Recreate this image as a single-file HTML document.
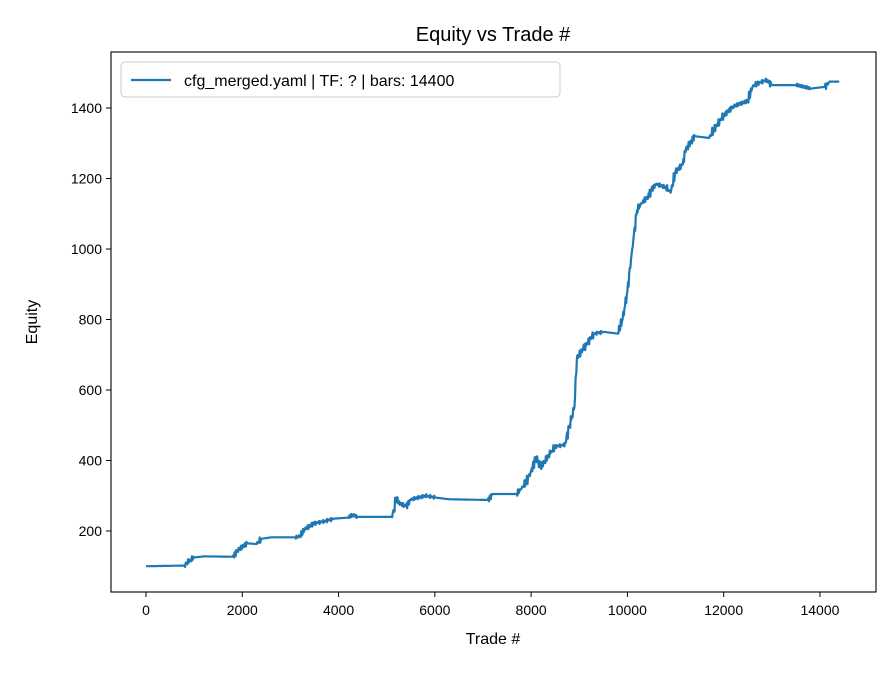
<!DOCTYPE html>
<html><head><meta charset="utf-8"><style>
body{margin:0;background:#fff}
svg text{font-family:"Liberation Sans","DejaVu Sans",sans-serif;fill:#000}
</style></head><body>
<svg id="s" width="896" height="672" xmlns="http://www.w3.org/2000/svg">
<rect width="896" height="672" fill="#fff"/>
<text x="493" y="41" font-size="20" text-anchor="middle">Equity vs Trade #</text>
<rect x="111" y="52" width="765" height="540" fill="none" stroke="#000" stroke-width="1.1"/>
<g id="xt" font-size="14" text-anchor="middle"></g>
<g id="yt" font-size="14" text-anchor="end"></g>
<text x="493" y="644" font-size="16" text-anchor="middle">Trade #</text>
<text x="37" y="322" font-size="16" text-anchor="middle" transform="rotate(-90 37 322)">Equity</text>
<polyline id="ln" fill="none" stroke="#1f77b4" stroke-width="2.2" stroke-linejoin="round"/>
<rect x="121" y="62" width="439" height="35" rx="4" fill="#fff" stroke="#ccc"/>
<line x1="131" y1="80" x2="171" y2="80" stroke="#1f77b4" stroke-width="2.2"/>
<text x="184" y="86" font-size="16">cfg_merged.yaml | TF: ? | bars: 14400</text>
</svg>
<script>
const X=v=>146+v*0.04814, Y=v=>531-(v-200)*0.3525;
const xt=document.getElementById("xt"),yt=document.getElementById("yt");
for(let v=0;v<=14000;v+=2000){const x=X(v);xt.innerHTML+=`<line x1="${x}" y1="592" x2="${x}" y2="597" stroke="#000"/><text x="${x}" y="615">${v}</text>`;}
for(let v=200;v<=1400;v+=200){const y=Y(v);yt.innerHTML+=`<line x1="106" y1="${y}" x2="111" y2="${y}" stroke="#000"/><text x="102" y="${y+5}">${v}</text>`;}
const d=[[0,100],[800,102],[850,110],[1000,125],[1200,128],[1800,127],[1900,145],[2100,165],[2300,163],[2400,178],[2600,182],[3100,182],[3200,185],[3300,205],[3500,222],[3700,228],[3900,235],[4200,238],[4300,245],[4400,240],[5100,240],[5150,260],[5200,295],[5250,280],[5400,270],[5500,290],[5800,300],[6000,295],[6300,290],[7100,288],[7200,305],[7700,305],[7800,320],[7900,340],[8000,370],[8100,410],[8200,380],[8400,420],[8500,440],[8700,445],[8800,500],[8900,550],[8950,690],[9100,720],[9300,760],[9500,765],[9800,760],[9900,800],[10000,880],[10100,1000],[10200,1110],[10300,1130],[10450,1150],[10500,1170],[10600,1185],[10800,1175],[10900,1160],[11000,1220],[11150,1240],[11200,1280],[11400,1320],[11700,1315],[11800,1340],[12000,1380],[12200,1405],[12500,1420],[12600,1460],[12700,1470],[12900,1480],[13000,1465],[13500,1465],[13800,1455],[14100,1460],[14200,1475],[14400,1475]];
let pts=[];
for(let i=0;i<d.length-1;i++){const [a,b]=d[i],[c,e]=d[i+1];const n=Math.max(1,Math.round((c-a)/12));
const slope=Math.abs(e-b)/(c-a);
for(let k=0;k<n;k++){const t=k/n;let v=b+(e-b)*t;if(slope>0.02)v+=Math.sin(k*2.7+i*1.3)*Math.min(18,4+slope*40)*Math.sin(k*0.9);pts.push(X(a+(c-a)*t).toFixed(1)+","+Y(v).toFixed(1));}}
pts.push(X(14400)+","+Y(1475));
document.getElementById("ln").setAttribute("points",pts.join(" "));
</script>
</body></html>
